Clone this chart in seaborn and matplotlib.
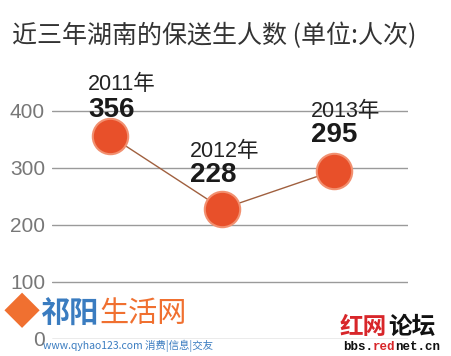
import matplotlib
matplotlib.use('Agg')
import matplotlib.pyplot as plt
import seaborn as sns

years = [2011, 2012, 2013]
year_labels = ['2011年', '2012年', '2013年']
counts = [356, 228, 295]
y_ticks = [0, 100, 200, 300, 400]

sns.set_theme(style='white')
plt.rcParams['font.family'] = ['Noto Sans CJK SC', 'DejaVu Sans']

fig = plt.figure(figsize=(4.52, 3.56), dpi=100)
ax = fig.add_axes([0.115, 0.048, 0.788, 0.769])

sns.lineplot(x=years, y=counts, color='#a0603f', lw=1, ax=ax, zorder=2)
sns.scatterplot(x=years, y=counts, color='#e8502a', edgecolor='#f29070',
                linewidth=1.5, s=650, ax=ax, zorder=3)

# label offsets in pixels (x, year label y, number y)
offsets = [(-22, 51, 26), (-32, 57, 34), (-23, 59, 36)]
for x, v, lab, (dx, dy1, dy2) in zip(years, counts, year_labels, offsets):
    ax.annotate(lab, (x, v), xytext=(dx, dy1), textcoords='offset pixels',
                fontsize=15.5, color='#222222', va='center', ha='left',
                family=['Liberation Sans', 'Noto Sans CJK SC'],
                annotation_clip=False, zorder=4)
    ax.annotate(str(v), (x, v), xytext=(dx, dy2), textcoords='offset pixels',
                fontsize=20, fontweight='bold', color='#1a1a1a', va='center',
                ha='left', family=['Liberation Sans'],
                annotation_clip=False, zorder=4)

ax.set_xlim(2010.48, 2013.66)
ax.set_ylim(0, 480)
ax.set_yticks(y_ticks)
ax.set_xticks([])
ax.tick_params(axis='y', length=0, pad=5, labelsize=15, labelcolor='#777777')
for lab in ax.get_yticklabels():
    lab.set_family(['Liberation Sans'])
ax.grid(axis='y', color='#9a9a9a', lw=1)
ax.grid(axis='x', visible=False)
for s in ax.spines.values():
    s.set_visible(False)
ax.set_facecolor('none')

fig.text(0.027, 0.90, '近三年湖南的保送生人数 (单位:人次)', fontsize=18,
         color='#333333', va='center', ha='left')

# watermarks
fig.text(0.008, 0.118, '◆', fontsize=26, color='#f07030', va='center', ha='left')
fig.text(0.09, 0.118, '祁阳', fontsize=21, color='#3a7cc0', fontweight='bold',
         va='center', ha='left')
fig.text(0.22, 0.118, '生活网', fontsize=21, color='#f07030', va='center', ha='left')
fig.text(0.095, 0.028, 'www.qyhao123.com 消费|信息|交友', fontsize=7.5,
         color='#3a7cc0', va='center', ha='left')
fig.text(0.752, 0.082, '红网', fontsize=17, color='#d8262a', fontweight='bold',
         va='center', ha='left')
fig.text(0.858, 0.082, '论坛', fontsize=17, color='#111111', fontweight='bold',
         va='center', ha='left')
fig.text(0.759, 0.025, 'bbs.', fontsize=9, color='#111111', fontweight='bold',
         family=['Liberation Mono'], va='center', ha='left')
fig.text(0.825, 0.025, 'red', fontsize=9, color='#d8262a', fontweight='bold',
         family=['Liberation Mono'], va='center', ha='left')
fig.text(0.875, 0.025, 'net.cn', fontsize=9, color='#111111', fontweight='bold',
         family=['Liberation Mono'], va='center', ha='left')

fig.savefig('out.png', dpi=100, facecolor='white')
